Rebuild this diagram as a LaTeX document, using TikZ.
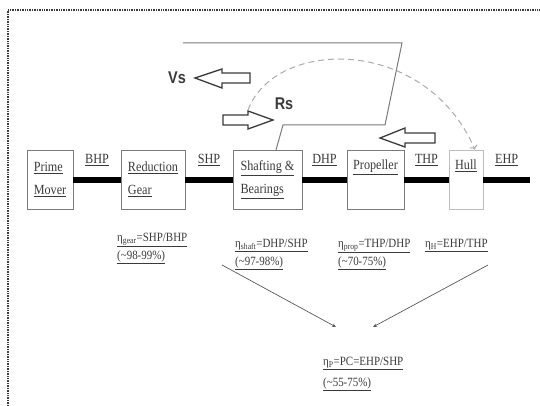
\documentclass[tikz,border=0pt]{standalone}
\usepackage{fontspec}
\setmainfont{Liberation Serif}[FakeStretch=0.87]
\newfontfamily\labelsans{Liberation Sans}[FakeStretch=0.85]
\usetikzlibrary{positioning,arrows.meta}

\definecolor{shipInk}{HTML}{3A3A3A}
\definecolor{shipLine}{HTML}{7A7A7A}
\definecolor{shipDash}{HTML}{AAAAAA}
\definecolor{shipPale}{HTML}{BDBDBD}
\newcommand{\undl}[1]{\underline{#1}}

\tikzset{
  stagebox/.style={draw=shipLine,line width=0.8pt,minimum height=59pt,align=left,
    text=shipInk,inner sep=2pt,font=\fontsize{14}{23}\selectfont},
  powerbar/.style={line width=6pt,black},
  barlbl/.style={above=11pt,inner sep=0pt,text=shipInk,font=\fontsize{14}{16}\selectfont},
  efflbl/.style={anchor=north west,align=left,inner sep=0pt,text=shipInk,
    font=\fontsize{12.6}{18}\selectfont},
  efflink/.style={draw=shipInk!85,line width=0.7pt,-{Stealth[length=4pt,width=3.5pt]}},
  hollowarrow/.style={draw=shipInk,line width=1.3pt,line join=miter},
  forcelbl/.style={text=shipInk,inner sep=0pt,font=\labelsans\bfseries\fontsize{17}{17}\selectfont}
}

\begin{document}
\begin{tikzpicture}[x=1pt,y=-1pt]
  \path[use as bounding box] (0,0) rectangle (540,406);
  % frame
  \draw[shipInk,line width=1.5pt,dash pattern=on 1pt off 0.7pt] (8,406) -- (8,10) -- (540,10);

  % stages of the power train
  \node[stagebox,minimum width=46pt] (mover) at (50,179.5) {\undl{Prime}\\\undl{Mover}};
  \node[stagebox,minimum width=64pt] (gear) at (153,179.5) {\undl{Reduction}\\\undl{Gear}};
  \node[stagebox,minimum width=69pt] (shaft) at (267.5,179.5) {\undl{Shafting \&}\\\undl{Bearings}};
  \node[stagebox,minimum width=57pt] (prop) at (375.5,179.5) {\undl{Propeller}\\\strut};
  \node[stagebox,draw=shipPale,minimum width=34pt] (hull) at (466,179.5) {\undl{Hull}\\\strut};
  \coordinate (wake) at (530,179.5);

  \draw[powerbar] (mover) -- node[barlbl] {\undl{BHP}} (gear);
  \draw[powerbar] (gear) -- node[barlbl] {\undl{SHP}} (shaft);
  \draw[powerbar] (shaft) -- node[barlbl] {\undl{DHP}} (prop);
  \draw[powerbar] (prop) -- node[barlbl] {\undl{THP}} (hull);
  \draw[powerbar] (hull) -- node[barlbl] {\undl{EHP}} (wake);

  % ship outline and wake arc
  \draw[shipLine,line width=1pt] (183,43) -- (402,43) -- (385,125) -- (283,125) -- (276,150);
  \draw[shipDash,line width=1pt,dash pattern=on 6pt off 4pt,-{To[length=4pt]}]
    (248,110) .. controls (275,38) and (425,35) .. (hull.north -| 475,0);

  % speed and resistance
  \draw[hollowarrow] (195,78) -- (222,69) -- (222,73) -- (250,73) -- (250,83) -- (222,83) -- (222,88) -- cycle;
  \node[forcelbl] (vs) at (177,78) {Vs};
  \draw[hollowarrow] (273,120) -- (248,111) -- (248,115) -- (223,115) -- (223,125) -- (248,125) -- (248,129) -- cycle;
  \node[forcelbl] (rs) at (284,104) {Rs};
  \draw[hollowarrow] (380,138) -- (405,128) -- (405,133) -- (435,133) -- (435,143) -- (405,143) -- (405,147) -- cycle;

  % efficiencies
  \node[efflbl] (etagear) at (117,233) {\undl{η\textsubscript{gear}=SHP/BHP}\\\undl{(\textasciitilde 98-99\%)}};
  \node[efflbl] (etashaft) at (235,239) {\undl{η\textsubscript{shaft}=DHP/SHP}\\\undl{(\textasciitilde 97-98\%)}};
  \node[efflbl] (etaprop) at (338,239) {\undl{η\textsubscript{prop}=THP/DHP}\\\undl{(\textasciitilde 70-75\%)}};
  \node[efflbl] (etahull) at (425,239) {\undl{η\textsubscript{H}=EHP/THP}};
  \node[efflbl,font=\fontsize{12.6}{21}\selectfont] (etatotal) at (323,357) {\undl{η\textsubscript{P}=PC=EHP/SHP}\\\undl{(\textasciitilde 55-75\%)}};

  \coordinate (fromshaft) at (222,265);
  \coordinate (fromhull) at (488,265);
  \coordinate (toleft) at (336,327);
  \coordinate (toright) at (373,327);
  \draw[efflink] (fromshaft) -- (toleft);
  \draw[efflink] (fromhull) -- (toright);
\end{tikzpicture}
\end{document}
